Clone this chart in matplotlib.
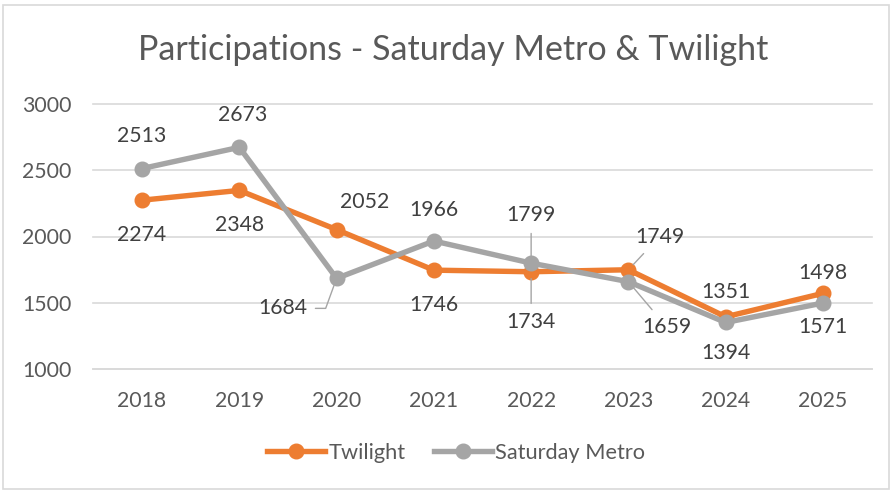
import matplotlib.pyplot as plt
from matplotlib.patches import Rectangle

years = ['2018', '2019', '2020', '2021', '2022', '2023', '2024', '2025']
twilight = [2274, 2348, 2052, 1746, 1734, 1749, 1394, 1571]
saturday_metro = [2513, 2673, 1684, 1966, 1799, 1659, 1351, 1498]
y_ticks = [1000, 1500, 2000, 2500, 3000]

ORANGE = '#ED7D31'
GREY = '#A5A5A5'
TEXT = '#595959'
GRID = '#D9D9D9'

# label offsets in pixels from the point (dx, dy), plus leader line style
tw_offsets = [(0, -35), (0, -35), (28, 28), (0, -35), (0, -50), (31, 33), (0, -36), (0, -34)]
tw_leader = [None, None, None, None, 'arc3', 'arc3', None, None]
sm_offsets = [(0, 33), (3, 32), (-54, -30), (0, 31), (0, 48), (38, -45), (0, 30), (0, 30)]
sm_leader = [None, None, 'angle,angleA=0,angleB=70,rad=0', None, 'arc3', 'arc3', None, None]

plt.rcParams['font.family'] = ['Lato', 'DejaVu Sans']

fig = plt.figure(figsize=(8.92, 4.91), dpi=100)
fig.patches.append(Rectangle((3 / 892, 2 / 491), 886 / 892, 484 / 491, transform=fig.transFigure,
                             fill=False, edgecolor=GRID, linewidth=1.2))
ax = fig.add_axes([93.4 / 892, 122 / 491, 778.2 / 892, 265 / 491])

x = list(range(len(years)))
ax.plot(x, twilight, color=ORANGE, lw=3.9, marker='o', ms=10.5, label='Twilight', zorder=3)
ax.plot(x, saturday_metro, color=GREY, lw=3.9, marker='o', ms=10.5, label='Saturday Metro', zorder=4)

ax.set_xlim(-0.5, len(years) - 0.5)
ax.set_ylim(1000, 3000)
ax.set_xticks(x)
ax.set_xticklabels(years)
ax.set_yticks(y_ticks)
ax.tick_params(axis='both', length=0, labelsize=15.3, labelcolor=TEXT)
ax.tick_params(axis='x', pad=16)
ax.tick_params(axis='y', pad=16)
ax.grid(axis='y', color=GRID, lw=1.2, clip_on=False)
ax.set_axisbelow(True)
for s in ['top', 'right', 'left']:
    ax.spines[s].set_visible(False)
ax.spines['bottom'].set_color(GRID)
ax.spines['bottom'].set_linewidth(1.2)


def label_series(vals, offsets, leaders):
    for i, v in enumerate(vals):
        dx, dy = offsets[i]
        props = None
        if leaders[i]:
            props = dict(arrowstyle='-', color=GREY, lw=1, shrinkA=4, shrinkB=5,
                         connectionstyle=leaders[i])
        ax.annotate(str(v), (i, v), xytext=(dx, dy), textcoords='offset pixels',
                    ha='center', va='center', fontsize=15.3, color='#404040',
                    arrowprops=props, zorder=5)


label_series(twilight, tw_offsets, tw_leader)
label_series(saturday_metro, sm_offsets, sm_leader)

fig.text(453 / 892, 1 - 50 / 491, 'Participations - Saturday Metro & Twilight',
         ha='center', va='center', fontsize=24.5, color=TEXT)

fig.legend(loc='center', bbox_to_anchor=(456 / 892, 1 - 453 / 491), ncol=2, frameon=False,
           fontsize=15.7, labelcolor=TEXT, handlelength=2.65, handletextpad=0.15, columnspacing=1.3)

fig.savefig('out.png', dpi=100)
